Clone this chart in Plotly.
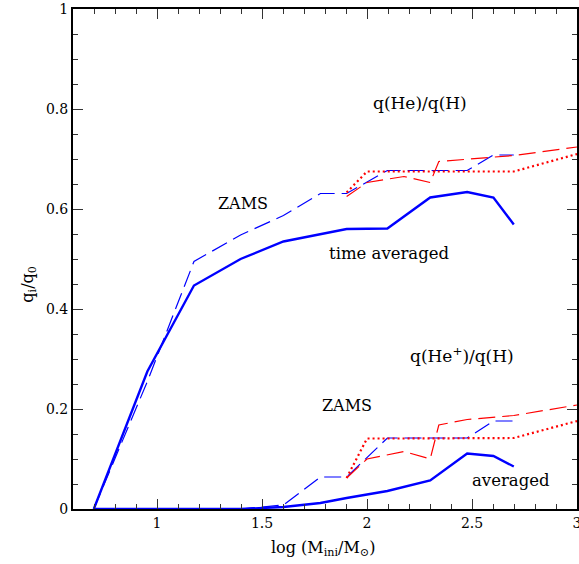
import plotly.graph_objects as go

# log(M/Msun) grid for the blue (model) series
x_blue = [0.699, 0.954, 1.176, 1.398, 1.602, 1.778, 1.903, 2.097, 2.301, 2.477, 2.602, 2.699]
he_avg = [0.0, 0.275, 0.447, 0.500, 0.535, 0.549, 0.560, 0.561, 0.623, 0.634, 0.623, 0.569]
he_zams = [0.0, 0.255, 0.495, 0.548, 0.587, 0.631, 0.631, 0.677, 0.677, 0.677, 0.708, 0.708]
he1_avg = [0.0, 0.0, 0.0, 0.0, 0.004, 0.012, 0.022, 0.036, 0.057, 0.111, 0.106, 0.085]
he1_zams = [0.0, 0.0, 0.0, 0.0, 0.008, 0.064, 0.064, 0.142, 0.142, 0.142, 0.176, 0.176]

# red series grid
x_red = [1.903, 2.0, 2.176, 2.301, 2.342, 2.477, 2.699, 3.0]
he_red_dash = [0.625, 0.653, 0.665, 0.653, 0.695, 0.700, 0.707, 0.724]
he_red_dot = [0.633, 0.675, 0.675, 0.675, 0.675, 0.675, 0.675, 0.710]
he1_red_dash = [0.062, 0.100, 0.115, 0.100, 0.168, 0.179, 0.187, 0.208]
he1_red_dot = [0.062, 0.141, 0.141, 0.141, 0.141, 0.141, 0.142, 0.176]

x_ticks = [1, 1.5, 2, 2.5, 3]
x_ticklabels = ["1", "1.5", "2", "2.5", "3"]
y_ticks = [0, 0.2, 0.4, 0.6, 0.8, 1]
y_ticklabels = ["0", "0.2", "0.4", "0.6", "0.8", "1"]

BLUE = "#0000ff"
RED = "#ff0000"
SERIF = "DejaVu Serif"

fig = go.Figure()

def add(x, y, color, width, dash):
    fig.add_trace(go.Scatter(x=x, y=y, mode="lines", showlegend=False, hoverinfo="skip",
                             line=dict(color=color, width=width, dash=dash)))

add(x_blue, he_zams, BLUE, 1.2, "17px,7px")
add(x_blue, he1_zams, BLUE, 1.2, "17px,7px")
add(x_red, he_red_dash, RED, 1.2, "17px,7px")
add(x_red, he1_red_dash, RED, 1.2, "17px,7px")
add(x_red, he_red_dot, RED, 2.2, "2px,3px")
add(x_red, he1_red_dot, RED, 2.2, "2px,3px")
add(x_blue, he_avg, BLUE, 2.4, "solid")
add(x_blue, he1_avg, BLUE, 2.4, "solid")

labels = [
    ("q(He)/q(H)", 2.252, 0.812, 17),
    ("ZAMS", 1.41, 0.612, 16),
    ("time averaged", 2.105, 0.512, 16.5),
    ("q(He<sup>+</sup>)/q(H)", 2.452, 0.308, 17),
    ("ZAMS", 1.905, 0.208, 16),
    ("averaged", 2.686, 0.058, 16.5),
]
for txt, xx, yy, sz in labels:
    fig.add_annotation(x=xx, y=yy, xref="x", yref="y", text=txt, showarrow=False,
                       xanchor="center", yanchor="middle",
                       font=dict(family=SERIF, size=sz, color="black"))

fig.add_annotation(x=0.496, y=-0.078, xref="paper", yref="paper",
                   text="log (M<sub>ini</sub>/M<sub>⊙</sub>)", showarrow=False,
                   xanchor="center", yanchor="middle",
                   font=dict(family=SERIF, size=16, color="black"))
fig.add_annotation(x=-0.09, y=0.45, xref="paper", yref="paper",
                   text="q<sub>i</sub>/q<sub>0</sub>", showarrow=False, textangle=-90,
                   xanchor="center", yanchor="middle",
                   font=dict(family=SERIF, size=16, color="black"))

axis_common = dict(
    showgrid=False, zeroline=False, showline=True, linecolor="black", linewidth=2,
    mirror="ticks", ticks="inside", ticklen=10, tickwidth=1, tickcolor="#333333",
    tickfont=dict(family=SERIF, size=14, color="black"),
    automargin=False, ticklabeloverflow="allow",
)
fig.update_xaxes(range=[0.6, 3.0], tickvals=x_ticks, ticktext=x_ticklabels,
                 minor=dict(dtick=0.1, tick0=0.6, ticks="inside", ticklen=5, tickcolor="#333333", tickwidth=1),
                 **axis_common)
fig.update_yaxes(range=[0, 1], tickvals=y_ticks, ticktext=y_ticklabels,
                 minor=dict(dtick=0.05, tick0=0, ticks="inside", ticklen=5, tickcolor="#333333", tickwidth=1),
                 **axis_common)

fig.update_layout(
    width=579, height=564,
    margin=dict(l=73, r=2, t=9, b=55, autoexpand=False),
    paper_bgcolor="white", plot_bgcolor="white",
    showlegend=False,
)

fig.write_html("out.html",
               config={"displayModeBar": False},
               post_script="document.body.style.margin='0';document.body.style.overflow='hidden';")
